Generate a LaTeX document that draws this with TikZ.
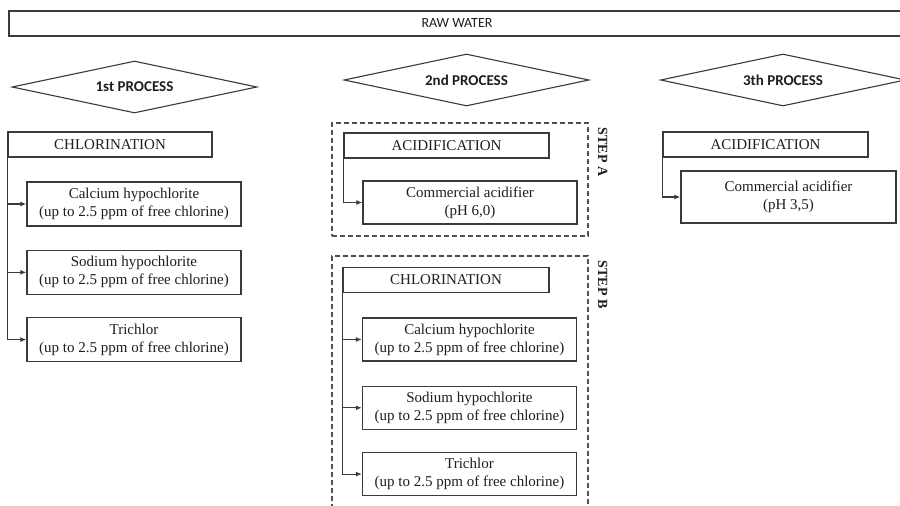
\documentclass[tikz,border=0pt]{standalone}
\usepackage{fontspec}
\setmainfont{Liberation Serif}
\newfontfamily\calib{Carlito}
\usepackage{tikz}
\usepackage{xcolor}
\usetikzlibrary{positioning,shapes.geometric,arrows.meta}
\definecolor{linegray}{HTML}{3A3A3A}
\definecolor{dashgray}{HTML}{505050}
\definecolor{inkdark}{HTML}{1E1E1E}

\begin{document}
\begin{tikzpicture}[x=1pt, y=-1pt,
    rawbox/.style={draw=linegray, line width=1.3pt, rectangle, minimum width=896pt, minimum height=25pt, inner sep=0pt, font=\calib\fontsize{14}{16}\selectfont, text=inkdark},
    procdiamond/.style={draw=linegray, line width=1.1pt, diamond, aspect=4.7, minimum width=245pt, minimum height=52pt, inner sep=0pt, font=\calib\bfseries\fontsize{15}{17}\selectfont, text=inkdark},
    methodbox/.style={draw=linegray, line width=1.3pt, rectangle, minimum width=205pt, minimum height=25pt, inner sep=0pt, font=\fontsize{15}{18}\selectfont, text=inkdark},
    agentbox/.style={draw=linegray, line width=1.3pt, rectangle, minimum width=214pt, minimum height=44pt, inner sep=0pt, align=center, font=\fontsize{15}{18}\selectfont, text=inkdark},
    stepframe/.style={draw=dashgray, line width=1.2pt, dash pattern=on 5pt off 3pt, rectangle, minimum width=256pt, inner sep=0pt},
    steptext/.style={rotate=-90, anchor=west, inner sep=0pt, font=\bfseries\fontsize{14}{16}\selectfont, text=inkdark},
    feed/.style={draw=linegray, line width=1.2pt, -{Latex[length=6pt,width=5pt]}}]
    \clip (0,0) rectangle (900,506);
    \fill[white] (0,0) rectangle (900,506);

    \node[rawbox] (raw) at (457,23.5) {RAW WATER};

    \node[procdiamond] (proc1) at (134.5,87) {1st PROCESS};
    \node[procdiamond] (proc2) at (466.5,80) {2nd PROCESS};
    \node[procdiamond] (proc3) at (783,80) {3th PROCESS};

    \node[methodbox, minimum width=204pt] (chlA) at (110,144.5) {CHLORINATION};
    \node[agentbox] (cal1) at (134,204) {Calcium hypochlorite\\(up to 2.5 ppm of free chlorine)};
    \node[agentbox, below=23pt of cal1] (sod1) {Sodium hypochlorite\\(up to 2.5 ppm of free chlorine)};
    \node[agentbox, below=22pt of sod1] (tri1) {Trichlor\\(up to 2.5 ppm of free chlorine)};
    \draw[feed] (chlA.south west) |- (cal1.west);
    \draw[feed] (chlA.south west) |- (sod1.west);
    \draw[feed] (chlA.south west) |- (tri1.west);

    \node[stepframe, minimum height=113pt] (frameA) at (460,179.5) {};
    \node[steptext] (stepA) at ([xshift=14pt,yshift=-5pt]frameA.north east) {STEP A};
    \node[methodbox] (acidA) at (446.5,145.5) {ACIDIFICATION};
    \node[agentbox, minimum height=43pt] (comA) at (470,202.5) {Commercial acidifier\\(pH 6,0)};
    \draw[feed] (acidA.south west) |- (comA.west);

    \node[stepframe, minimum height=264pt] (frameB) at (460,388) {};
    \node[steptext] (stepB) at ([xshift=14pt,yshift=-5pt]frameB.north east) {STEP B};
    \node[methodbox, minimum width=206pt] (chlB) at (446,280) {CHLORINATION};
    \node[agentbox, minimum height=43pt] (cal2) at (469.5,339.5) {Calcium hypochlorite\\(up to 2.5 ppm of free chlorine)};
    \node[agentbox, minimum height=43pt, below=24pt of cal2] (sod2) {Sodium hypochlorite\\(up to 2.5 ppm of free chlorine)};
    \node[agentbox, minimum height=43pt, below=22pt of sod2] (tri2) {Trichlor\\(up to 2.5 ppm of free chlorine)};
    \draw[feed] (chlB.south west) |- (cal2.west);
    \draw[feed] (chlB.south west) |- (sod2.west);
    \draw[feed] (chlB.south west) |- (tri2.west);

    \node[methodbox] (acidC) at (765.5,144.5) {ACIDIFICATION};
    \node[agentbox, minimum width=215pt, minimum height=52pt] (comC) at (788.5,197) {Commercial acidifier\\(pH 3,5)};
    \draw[feed] (acidC.south west) |- (comC.west);
\end{tikzpicture}
\end{document}
